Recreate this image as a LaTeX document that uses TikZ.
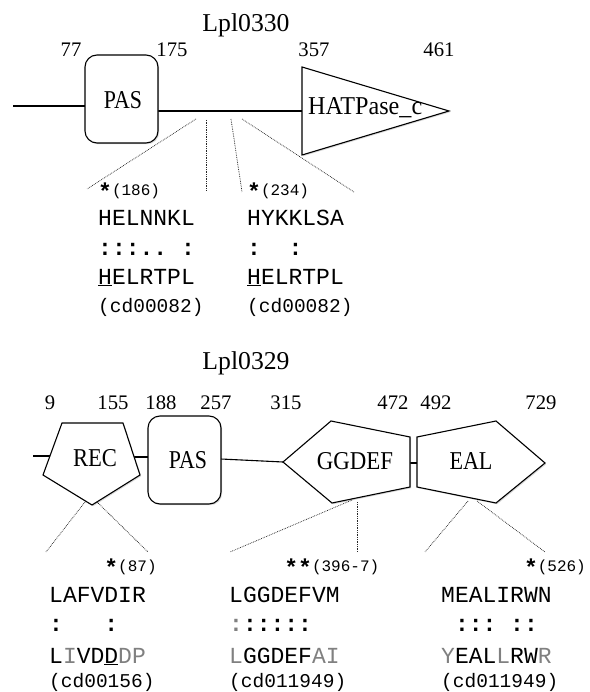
\documentclass[tikz,border=0pt]{standalone}
\usepackage{fontspec}
\usepackage{graphicx}
\usetikzlibrary{shadows}
\setmainfont{Liberation Serif}
\newfontfamily\monof{Liberation Mono}
\newcommand\seqfont{\monof\fontsize{23pt}{23pt}\selectfont}
\newcommand\cdfont{\monof\fontsize{19.5pt}{20pt}\selectfont}
\newcommand\posfont{\mdseries\monof\fontsize{16pt}{16pt}\selectfont}
\definecolor{seqgray}{gray}{0.5}
\newcommand\gr[1]{\textcolor{seqgray}{#1}}
\newcommand\ul[1]{\leavevmode\rlap{\rule[-2.2pt]{0.6em}{1.3pt}}#1}
\newcommand\cond[2]{\scalebox{#1}[1]{#2}}
\newcommand\st{\raisebox{-4pt}{\bfseries *}}
\begin{document}
\begin{tikzpicture}[x=1pt,y=-1pt,
  bb/.style={line width=1.1pt},
  dom/.style={draw, line width=1.1pt, fill=white, drop shadow={shadow xshift=1.2pt, shadow yshift=-1.2pt, opacity=0.3}},
  guide/.style={densely dotted, line width=0.75pt, black!85},
  num/.style={anchor=base, inner sep=0, font=\fontsize{20.7pt}{21pt}\selectfont},
  ttl/.style={anchor=base, inner sep=0, font=\fontsize{25.7pt}{26pt}\selectfont},
  lab/.style={anchor=base, inner sep=0, font=\fontsize{25.7pt}{26pt}\selectfont},
  seq/.style={anchor=base west, inner sep=0, font=\seqfont},
  dots/.style={anchor=base west, inner sep=0, font=\seqfont\bfseries},
  cd/.style={anchor=base west, inner sep=0, font=\cdfont}]
\useasboundingbox (0,0) rectangle (589,692);

% ---------------- Lpl0330 ----------------
\node[ttl] (t1) at (246,32) {Lpl0330};
\node[num] (n77) at (71,57) {77};
\node[num] (n175) at (172,57) {175};
\node[num] (n357) at (314,57) {357};
\node[num] (n461) at (439,57) {461};

\coordinate (a0) at (13,106);
\coordinate (a1) at (85,106);
\coordinate (a2) at (158,111);
\coordinate (a3) at (302,111);
\draw[bb] (a0) -- (a1);
\draw[bb] (a2) -- (a3);
\node[dom, rounded corners=12pt, minimum width=73pt, minimum height=88pt, inner sep=0] (pasA) at (121.5,99) {};
\node[lab] (pasAl) at (123,109) {\cond{0.85}{PAS}};
\coordinate (tA) at (302,67);
\coordinate (tB) at (449,111);
\coordinate (tC) at (302,155);
\draw[dom, line join=miter] (tA) -- (tB) -- (tC) -- cycle;
\node[lab, anchor=base west] (hat) at (308,115) {\cond{0.94}{HATPase\_c}};

\coordinate (g1a) at (196,119); \coordinate (g1b) at (87,189);
\coordinate (g2a) at (206,120); \coordinate (g2b) at (206,191);
\coordinate (g3a) at (231,119); \coordinate (g3b) at (242,192);
\coordinate (g4a) at (242,119); \coordinate (g4b) at (354,192);
\draw[guide] (g1a) -- (g1b);
\draw[guide] (g2a) -- (g2b);
\draw[guide] (g3a) -- (g3b);
\draw[guide] (g4a) -- (g4b);

\node[seq] (s1p) at (98,196) {\st\posfont(186)};
\node[seq] (s1a) at (98,226) {HELNNKL};
\node[dots] (s1b) at (98,255) {:::..~:};
\node[seq] (s1c) at (98,284) {\ul{H}ELRTPL};
\node[cd]  (s1d) at (98,312) {(cd00082)};

\node[seq] (s2p) at (247,196) {\st\posfont(234)};
\node[seq] (s2a) at (247,226) {HYKKLSA};
\node[dots] (s2b) at (247,255) {:~~:};
\node[seq] (s2c) at (247,284) {\ul{H}ELRTPL};
\node[cd]  (s2d) at (247,312) {(cd00082)};

% ---------------- Lpl0329 ----------------
\node[ttl] (t2) at (246,369) {Lpl0329};
\node[num] (m9) at (50,409) {9};
\node[num] (m155) at (113,409) {155};
\node[num] (m188) at (161,409) {188};
\node[num] (m257) at (216,409) {257};
\node[num] (m315) at (286,409) {315};
\node[num] (m472) at (393,409) {472};
\node[num] (m492) at (436,409) {492};
\node[num] (m729) at (541,409) {729};

\coordinate (b0) at (33,456);
\coordinate (b1) at (50,456);
\coordinate (b2) at (134,457);
\coordinate (b3) at (148,457);
\coordinate (b4) at (221,459);
\coordinate (b5) at (283,462);
\coordinate (b6) at (410,463);
\coordinate (b7) at (417,463);
\draw[bb] (b0) -- (b1);
\draw[bb] (b2) -- (b3);
\draw[bb] (b4) -- (b5);
\draw[bb] (b6) -- (b7);

\coordinate (r1) at (62,423); \coordinate (r2) at (123,423); \coordinate (r3) at (140,475);
\coordinate (r4) at (92,505); \coordinate (r5) at (43,475);
\draw[dom, line join=miter] (r1) -- (r2) -- (r3) -- (r4) -- (r5) -- cycle;
\node[lab] (recl) at (95,466) {\cond{0.88}{REC}};

\node[dom, rounded corners=12pt, minimum width=73pt, minimum height=88pt, inner sep=0] (pasB) at (184.5,460) {};
\node[lab] (pasBl) at (188,468) {\cond{0.85}{PAS}};

\coordinate (d1) at (283,462); \coordinate (d2) at (331,421); \coordinate (d3) at (410,437);
\coordinate (d4) at (410,487); \coordinate (d5) at (332,503);
\draw[dom, line join=miter] (d1) -- (d2) -- (d3) -- (d4) -- (d5) -- cycle;
\node[lab] (ggl) at (355,469) {\cond{0.89}{GGDEF}};

\coordinate (e1) at (417,437); \coordinate (e2) at (496,421); \coordinate (e3) at (545,463);
\coordinate (e4) at (496,503); \coordinate (e5) at (417,487);
\draw[dom, line join=miter] (e1) -- (e2) -- (e3) -- (e4) -- (e5) -- cycle;
\node[lab] (eall) at (471,469) {\cond{0.86}{EAL}};

\coordinate (h1a) at (85,502);  \coordinate (h1b) at (46,552);
\coordinate (h2a) at (97,502);  \coordinate (h2b) at (148,552);
\coordinate (h3a) at (352,500); \coordinate (h3b) at (230,552);
\coordinate (h4a) at (357,502); \coordinate (h4b) at (357,552);
\coordinate (h5a) at (468,501); \coordinate (h5b) at (425,552);
\coordinate (h6a) at (477,501); \coordinate (h6b) at (545,552);
\draw[guide] (h1a) -- (h1b);
\draw[guide] (h2a) -- (h2b);
\draw[guide] (h3a) -- (h3b);
\draw[guide] (h4a) -- (h4b);
\draw[guide] (h5a) -- (h5b);
\draw[guide] (h6a) -- (h6b);

\node[seq] (u1p) at (49,571) {~~~~\st\posfont(87)};
\node[seq] (u1a) at (49,602) {LAFVDIR};
\node[dots] (u1b) at (49,631) {:~~~:};
\node[seq] (u1c) at (49,663) {L\gr{I}VD\ul{D}\gr{DP}};
\node[cd]  (u1d) at (49,687) {(cd00156)};

\node[seq] (u2p) at (229,571) {~~~~\st\st\posfont(396-7)};
\node[seq] (u2a) at (229,602) {LGGDEFVM};
\node[dots] (u2b) at (229,631) {\gr{:}:::::};
\node[seq] (u2c) at (229,663) {\gr{L}GGDEF\gr{AI}};
\node[cd]  (u2d) at (229,687) {(cd011949)};

\node[seq] (u3p) at (441,571) {~~~~~~\st\posfont(526)};
\node[seq] (u3a) at (441,602) {MEALIRWN};
\node[dots] (u3b) at (441,631) {~:::~::};
\node[seq] (u3c) at (441,663) {\gr{Y}EAL\gr{L}RW\gr{R}};
\node[cd]  (u3d) at (441,687) {(cd011949)};
\end{tikzpicture}
\end{document}
